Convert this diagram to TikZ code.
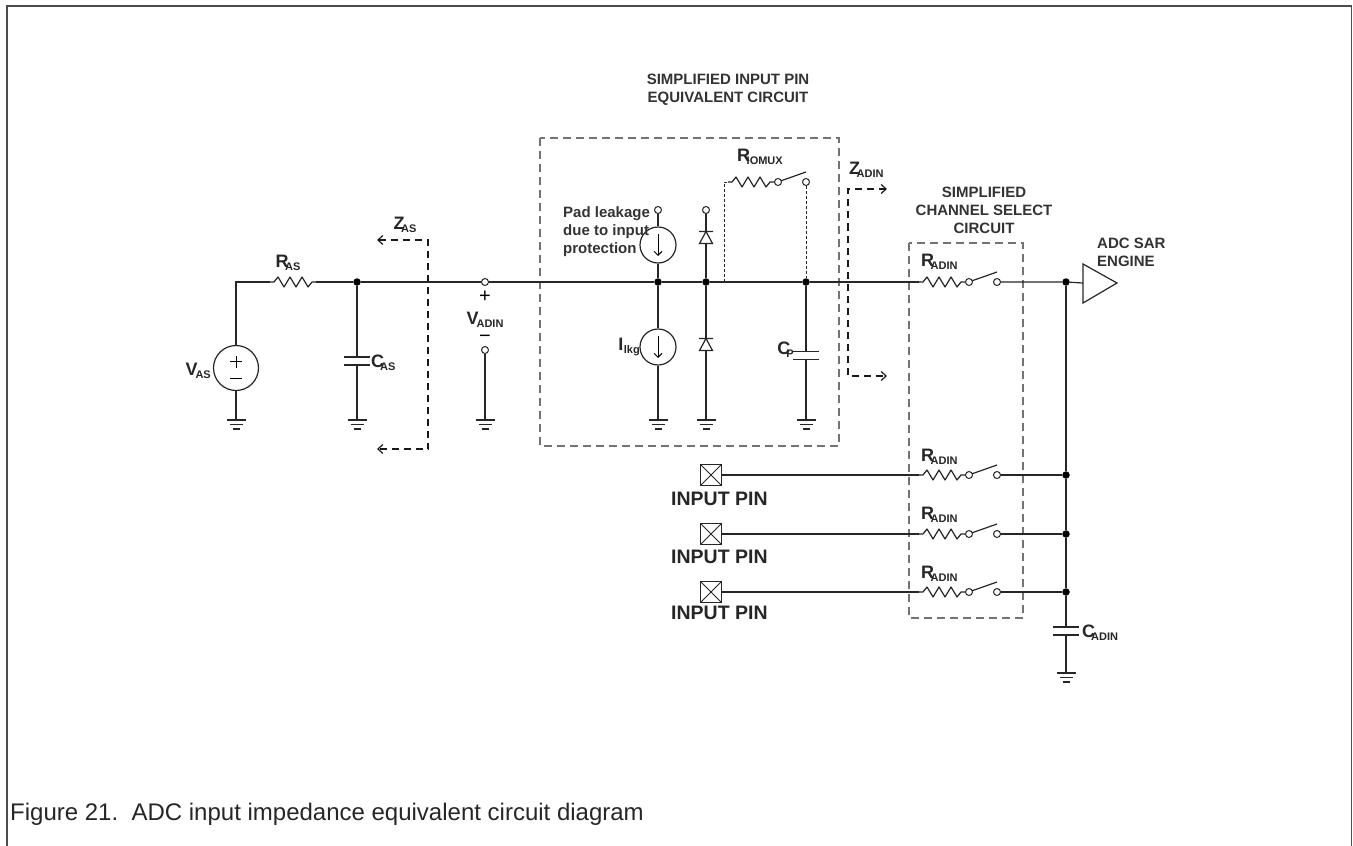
\documentclass[tikz,border=0pt]{standalone}
\usepackage{fontspec}
\setmainfont{Liberation Sans}
\usetikzlibrary{arrows.meta}

\newcommand{\sbs}[3][-3.5pt]{#2\kern#1\raisebox{-3pt}{\fontsize{11}{11}\selectfont #3}}

\tikzset{
  wire/.style={line width=1.2pt, draw=black!85},
  jdot/.style={circle, fill=black, inner sep=0pt, minimum size=7.5pt},
  term/.style={circle, draw=black!85, fill=white, line width=1pt, inner sep=0pt, minimum size=7pt},
  vsrc/.style={circle, draw=black!85, line width=1.2pt, inner sep=0pt, minimum size=45pt},
  isrc/.style={circle, draw=black!85, line width=1.2pt, inner sep=0pt, minimum size=36pt},
  pinbox/.style={draw=black!85, line width=1pt, minimum size=21pt, inner sep=0pt,
    path picture={\draw[line width=0.8pt] (path picture bounding box.north west) -- (path picture bounding box.south east)
      (path picture bounding box.north east) -- (path picture bounding box.south west);}},
  subbox/.style={draw=black!55, line width=1.2pt, dash pattern=on 8pt off 5pt},
  zpath/.style={line width=1.2pt, draw=black!90, dash pattern=on 7pt off 5pt,
    {Straight Barb[length=5pt,width=9pt]}-{Straight Barb[length=5pt,width=9pt]}},
  mux/.style={line width=1pt, draw=black!85, dash pattern=on 3pt off 2pt},
  lbl/.style={font=\bfseries\fontsize{18}{20}\selectfont, text=black!85, inner sep=0pt},
  ttl/.style={font=\bfseries\fontsize{15}{18}\selectfont, text=black!80, inner sep=0pt, align=center},
  res/.pic={\coordinate (-l) at (0,0); \coordinate (-r) at (46,0);
    \draw[wire, line join=round] (0,0) -- (4,0) -- (8,-5) -- (14,5) -- (20,-5) -- (26,5) -- (32,-5) -- (38,5) -- (42,0) -- (46,0);},
  swt/.pic={\draw[wire] (3,-1.2) -- (28,-10); \node[term] (-a) at (0,0) {}; \node[term] (-b) at (28,0) {};},
  cap/.pic={\coordinate (-t) at (0,-4); \coordinate (-b) at (0,4);
    \draw[wire] (-13,-4) -- (13,-4) (-13,4) -- (13,4);},
  gnd/.pic={\coordinate (-t) at (0,0);
    \draw[wire] (-9.5,0) -- (9.5,0) (-6.5,4.5) -- (6.5,4.5) (-3.5,9) -- (3.5,9);},
  dio/.pic={\coordinate (-t) at (0,-6); \coordinate (-b) at (0,6);
    \draw[wire] (-7,-6) -- (7,-6) (0,-6) -- (-6.5,6) -- (6.5,6) -- cycle;},
}

\begin{document}
\begin{tikzpicture}[x=1pt,y=-1pt]
\useasboundingbox (0,0) rectangle (1353,846);
\draw[draw=black!70, line width=1.3pt] (7,846) -- (7,6) -- (1351.5,6) -- (1351.5,846);

\draw[subbox] (540,138) rectangle (839,446);
\draw[subbox] (909,243) rectangle (1023,618);
\node[ttl] at (728,89.5) {SIMPLIFIED INPUT PIN\\EQUIVALENT CIRCUIT};
\node[ttl] at (984,210) {SIMPLIFIED\\CHANNEL SELECT\\CIRCUIT};

\node[vsrc] (vas) at (236,368) {};
\draw[line width=1pt] (vas.center) ++(-6,-6.5) -- ++(12,0) (vas.center) ++(0,-12.5) -- ++(0,12) (vas.center) ++(-6,10.5) -- ++(12,0);
\pic (ras) at (270,282) {res};
\node[jdot] (j1) at (357,282) {};
\pic (cas) at (357,361) {cap};
\node[term] (va1) at (485,282) {};
\node[term] (va2) at (485,350) {};
\node[term] (padt) at (658,210) {};
\node[isrc] (pad) at (658,245) {};
\node[jdot] (j2) at (658,282) {};
\node[isrc] (ilkg) at (658,347) {};
\draw[line width=1pt, -{Straight Barb[length=4pt,width=8pt]}] (pad.center) ++(0,-11) -- ++(0,22);
\draw[line width=1pt, -{Straight Barb[length=4pt,width=8pt]}] (ilkg.center) ++(0,-11) -- ++(0,22);
\node[term] (dt) at (706,210) {};
\pic (d1) at (706,237.5) {dio};
\node[jdot] (j3) at (706,282) {};
\pic (d2) at (706,344.5) {dio};
\coordinate (mx) at (724,282);
\pic (rmx) at (728,182) {res};
\pic (smx) at (778,182) {swt};
\node[jdot] (j4) at (806,282) {};
\pic (cp) at (806,355.5) {cap};

\pic (ra0) at (919,282) {res};
\pic (sw0) at (969,282) {swt};
\node[jdot] (j5) at (1066,282) {};
\coordinate (adc) at (1083,283);
\draw[wire] (adc) ++(0,-19) -- ++(34,19) -- ++(-34,20) -- cycle;

\node[pinbox] (pin1) at (711,475) {};
\node[pinbox] (pin2) at (711,534) {};
\node[pinbox] (pin3) at (711,592) {};
\pic (ra1) at (919,475) {res};
\pic (ra2) at (919,534) {res};
\pic (ra3) at (919,592) {res};
\pic (sw1) at (969,475) {swt};
\pic (sw2) at (969,534) {swt};
\pic (sw3) at (969,592) {swt};
\node[jdot] (j6) at (1066,475) {};
\node[jdot] (j7) at (1066,534) {};
\node[jdot] (j8) at (1066,592) {};
\pic (cad) at (1066,631) {cap};

\pic (g1) at (236,420) {gnd};
\pic (g2) at (357,420) {gnd};
\pic (g3) at (485,420) {gnd};
\pic (g4) at (658,420) {gnd};
\pic (g5) at (706,420) {gnd};
\pic (g6) at (806,420) {gnd};
\pic (g7) at (1066,673) {gnd};

\draw[wire] (vas.north) |- (ras-l);
\draw[wire] (vas.south) -- (g1-t);
\draw[wire] (ras-r) -- (j1) -- (va1) -- (j2) -- (j3) -- (j4) -- (ra0-l);
\draw[wire] (j1) -- (cas-t) (cas-b) -- (g2-t);
\draw[wire] (va2) -- (g3-t);
\draw[wire] (padt) -- (pad) -- (j2) -- (ilkg) -- (g4-t);
\draw[wire] (dt) -- (d1-t) (d1-b) -- (j3) -- (d2-t) (d2-b) -- (g5-t);
\draw[mux] (mx) |- (rmx-l);
\draw[wire] (rmx-r) -- (smx-a);
\draw[mux] (smx-b) -- (j4);
\draw[wire] (j4) -- (cp-t) (cp-b) -- (g6-t);
\draw[wire] (ra0-r) -- (sw0-a) (sw0-b) -- (j5) -- (adc);
\draw[wire] (pin1) -- (ra1-l) (ra1-r) -- (sw1-a) (sw1-b) -- (j6);
\draw[wire] (pin2) -- (ra2-l) (ra2-r) -- (sw2-a) (sw2-b) -- (j7);
\draw[wire] (pin3) -- (ra3-l) (ra3-r) -- (sw3-a) (sw3-b) -- (j8);
\draw[wire] (j5) -- (j6) -- (j7) -- (j8) -- (cad-t) (cad-b) -- (g7-t);

\coordinate (zas1) at (377,240);
\coordinate (zas2) at (377,449);
\draw[zpath] (zas1) -- ++(51,0) |- (zas2);
\coordinate (zad1) at (887,189);
\coordinate (zad2) at (887,376);
\draw[zpath] (zad1) -- ++(-39,0) |- (zad2);

\node[lbl] at (288,263) {\sbs{R}{AS}};
\node[lbl, anchor=east] at (211,371) {\sbs[-2pt]{V}{AS}};
\node[lbl, anchor=west] at (371,363) {\sbs[-4pt]{C}{AS}};
\node[lbl] at (405,225) {\sbs{Z}{AS}};
\node[font=\fontsize{20}{20}\selectfont, inner sep=0pt] at (485,297) {+};
\node[lbl] at (485,320) {\sbs[-2pt]{V}{ADIN}};
\node[font=\fontsize{20}{20}\selectfont, inner sep=0pt] at (485,339) {−};
\node[ttl, align=left, anchor=west] at (563,232) {Pad leakage\\due to input\\protection};
\node[lbl, anchor=east] at (640,347) {\sbs[0.5pt]{I}{lkg}};
\node[lbl, anchor=west] at (737,157) {\sbs{R}{IOMUX}};
\node[lbl, anchor=east] at (794,350) {\sbs[-4pt]{C}{P}};
\node[lbl, anchor=west] at (849,170) {\sbs{Z}{ADIN}};
\node[lbl, anchor=west] at (921,262) {\sbs{R}{ADIN}};
\node[lbl, anchor=west] at (921,457) {\sbs{R}{ADIN}};
\node[lbl, anchor=west] at (921,515) {\sbs{R}{ADIN}};
\node[lbl, anchor=west] at (921,574) {\sbs{R}{ADIN}};
\node[lbl, anchor=west] at (1082,633) {\sbs[-4pt]{C}{ADIN}};
\node[ttl, align=left, anchor=west] at (1097,252) {ADC SAR\\ENGINE};
\node[lbl, font=\bfseries\fontsize{19.5}{20}\selectfont, anchor=west] at (671,499) {INPUT PIN};
\node[lbl, font=\bfseries\fontsize{19.5}{20}\selectfont, anchor=west] at (671,557) {INPUT PIN};
\node[lbl, font=\bfseries\fontsize{19.5}{20}\selectfont, anchor=west] at (671,613) {INPUT PIN};
\node[anchor=west, inner sep=0pt, text=black!85, font=\fontsize{24}{24}\selectfont] at (10,814) {Figure 21.\ \ ADC input impedance equivalent circuit diagram};
\end{tikzpicture}
\end{document}
